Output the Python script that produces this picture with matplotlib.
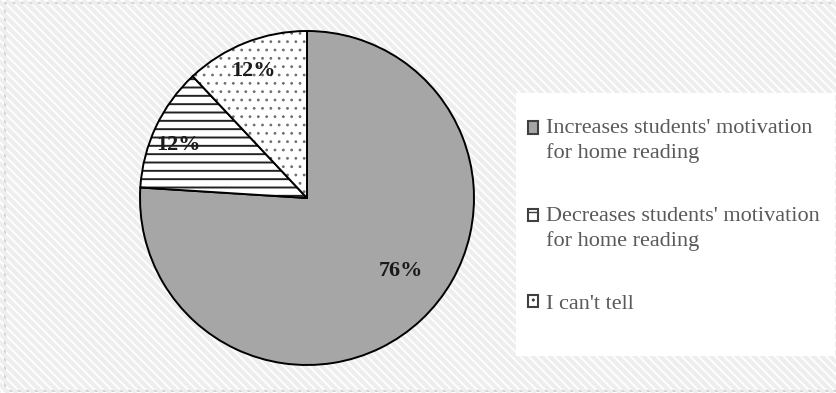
import matplotlib
matplotlib.use("Agg")
import matplotlib.pyplot as plt
from matplotlib.patches import Rectangle
from matplotlib.collections import LineCollection
from matplotlib.legend_handler import HandlerPatch
from matplotlib.colors import to_rgba
import numpy as np

plt.rcParams["font.family"] = ["Liberation Serif", "DejaVu Serif"]

# Survey responses (percent)
categories = [
    "Increases students' motivation\nfor home reading",
    "Decreases students' motivation\nfor home reading",
    "I can't tell",
]
values = [76, 12, 12]
fills = ["#a6a6a6", "white", "white"]
hatches = ["", "--", ".."]
hatch_colors = ["black", "#222222", "#707070"]
hatch_widths = [1.0, 1.4, 0.8]

W, H = 836, 393
fig = plt.figure(figsize=(W / 100, H / 100), dpi=100)

# Background panel with faint diagonal stripes (pixel coordinates, y down)
bg = fig.add_axes([0, 0, 1, 1])
bg.set_xlim(0, W)
bg.set_ylim(H, 0)
bg.axis("off")
panel = Rectangle((5, 3), W, 388, facecolor="white", edgecolor="#d4d4d4",
                  linewidth=1.5, zorder=0)
bg.add_patch(panel)
segs = [[(c, 0), (c + H, H)] for c in np.arange(-H, W + 10, 8.5)]
stripes = LineCollection(segs, colors="#eeeeee", linewidths=3.0, zorder=1)
stripes.set_clip_path(panel)
bg.add_collection(stripes)
# white box behind the legend
bg.add_patch(Rectangle((516, 93), 319, 263, facecolor="white",
                       edgecolor="none", zorder=2))

# Pie
cx, cy, r = 307, 198, 167
ax = fig.add_axes([(cx - r) / W, (H - cy - r) / H, 2 * r / W, 2 * r / H])
wedges, _ = ax.pie(values, startangle=90, counterclock=False, colors=fills,
                   wedgeprops=dict(edgecolor="black", linewidth=1.4))
for w, h, hc, hw in zip(wedges, hatches, hatch_colors, hatch_widths):
    w.set_hatch(h)
    w._hatch_color = to_rgba(hc)
    if hasattr(w, "set_hatch_linewidth"):
        w.set_hatch_linewidth(hw)
ax.set_xlim(-1, 1)
ax.set_ylim(-1, 1)

label_pos = [(0.56, -0.44), (-0.77, 0.32), (-0.32, 0.76)]
for v, (x, y) in zip(values, label_pos):
    ax.text(x, y, f"{v}%", ha="center", va="center", fontsize=16,
            fontweight="bold", color="#1a1a1a")

# Legend: the swatch sits beside the first line of each label
FS = 16
LINESP = 1.33
PITCH_PT = 25 * 0.72  # baseline-to-baseline distance of label lines


def swatch(lines):
    shift = (lines - 1) * 0.5 * PITCH_PT

    def make(legend, orig_handle, xdescent, ydescent, width, height, fontsize):
        return Rectangle((-xdescent, -ydescent + shift), width, height)
    return HandlerPatch(patch_func=make)


handler_map = {w: swatch(lab.count("\n") + 1) for w, lab in zip(wedges, categories)}
leg = ax.legend(wedges, categories, loc="upper left",
                bbox_to_anchor=(508 / W, 1 - 99 / H),
                bbox_transform=fig.transFigure, frameon=False, fontsize=FS,
                labelcolor="#595959", handlelength=0.47, handleheight=0.47,
                handletextpad=0.36, labelspacing=1.98, handler_map=handler_map)
for t in leg.get_texts():
    t.set_linespacing(LINESP)
for h in leg.legend_handles:
    h.set_edgecolor("#404040")
    h.set_linewidth(1.5)

fig.savefig("out.png", dpi=100)
